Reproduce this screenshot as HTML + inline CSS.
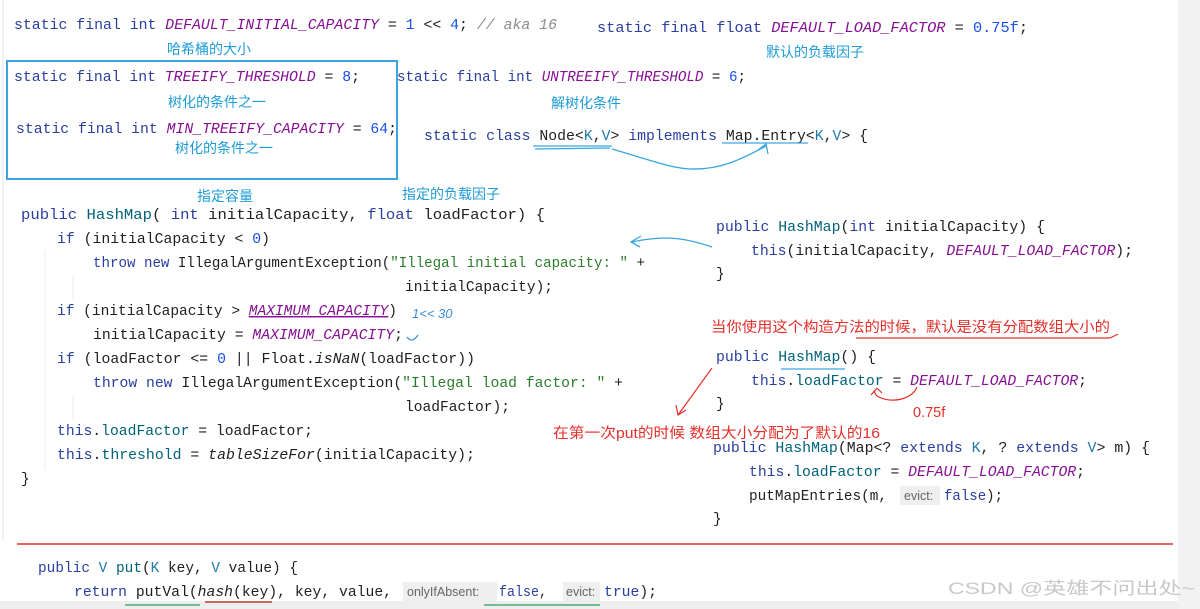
<!DOCTYPE html>
<html><head><meta charset="utf-8"><style>
html,body{margin:0;padding:0;background:#fff;width:1200px;height:609px;overflow:hidden}
svg{display:block}
.c{font-family:"Liberation Mono",monospace;font-size:14.5px;fill:#1f1f1f}
.k{fill:#2a3f9e}.p{fill:#871094;font-style:italic}.n{fill:#1750eb}.s{fill:#2c7d2c}.g{fill:#8c8c8c;font-style:italic}.m{fill:#00627a}.t{fill:#1f7ba8}
.a{font-family:"Liberation Sans","Noto Sans CJK SC",sans-serif;font-size:14px;fill:#1e9bd7}
.r{font-family:"Liberation Sans","Noto Sans CJK SC",sans-serif;font-size:14.5px;fill:#e3302a}
.h{font-family:"Liberation Sans",sans-serif;font-size:12.5px;fill:#666}
</style></head><body>
<svg width="1200" height="609" xmlns="http://www.w3.org/2000/svg">
<rect x="1178" y="0" width="22" height="609" fill="#f2f2f2"/>
<rect x="0" y="601" width="1178" height="8" fill="#eeeeee"/>
<line x1="3" y1="0" x2="3" y2="540" stroke="#e6e6e6"/>

<text class="c" x="14" y="29" textLength="543" lengthAdjust="spacingAndGlyphs"><tspan class="k">static final int </tspan><tspan class="p">DEFAULT_INITIAL_CAPACITY</tspan> = <tspan class="n">1</tspan> &lt;&lt; <tspan class="n">4</tspan>; <tspan class="g">// aka 16</tspan></text>
<text class="c" x="597" y="32" textLength="431" lengthAdjust="spacingAndGlyphs"><tspan class="k">static final float </tspan><tspan class="p">DEFAULT_LOAD_FACTOR</tspan> = <tspan class="n">0.75f</tspan>;</text>
<text class="a" x="167" y="54">哈希桶的大小</text>
<text class="a" x="766" y="57">默认的负载因子</text>

<rect x="7" y="61" width="390" height="118" fill="none" stroke="#3aa6dd" stroke-width="2"/>
<text class="c" x="14" y="81" textLength="346" lengthAdjust="spacingAndGlyphs"><tspan class="k">static final int </tspan><tspan class="p">TREEIFY_THRESHOLD</tspan> = <tspan class="n">8</tspan>;</text>
<text class="c" x="397" y="81" textLength="349" lengthAdjust="spacingAndGlyphs"><tspan class="k">static final int </tspan><tspan class="p">UNTREEIFY_THRESHOLD</tspan> = <tspan class="n">6</tspan>;</text>
<text class="a" x="168" y="107">树化的条件之一</text>
<text class="a" x="551" y="108">解树化条件</text>
<text class="c" x="16" y="133" textLength="381" lengthAdjust="spacingAndGlyphs"><tspan class="k">static final int </tspan><tspan class="p">MIN_TREEIFY_CAPACITY</tspan> = <tspan class="n">64</tspan>;</text>
<text class="a" x="175" y="153">树化的条件之一</text>
<text class="c" x="424" y="140" textLength="444" lengthAdjust="spacingAndGlyphs"><tspan class="k">static class </tspan>Node&lt;<tspan class="t">K</tspan>,<tspan class="t">V</tspan>&gt; <tspan class="k">implements </tspan>Map.Entry&lt;<tspan class="t">K</tspan>,<tspan class="t">V</tspan>&gt; {</text>
<path d="M533 146 L612 146 M535 149 L610 148 M612 149 C650 160 670 168 690 169 C720 170 740 160 766 146 M722 143 L808 143 M758 150 L766 144 L768 154" fill="none" stroke="#3aa6dd" stroke-width="1.3"/>

<text class="a" x="197" y="201">指定容量</text>
<text class="a" x="402" y="199">指定的负载因子</text>

<text class="c" x="21" y="219" textLength="524" lengthAdjust="spacingAndGlyphs"><tspan class="k">public </tspan><tspan class="m">HashMap</tspan>( <tspan class="k">int </tspan>initialCapacity, <tspan class="k">float </tspan>loadFactor) {</text>
<text class="c" x="57" y="243" textLength="213" lengthAdjust="spacingAndGlyphs"><tspan class="k">if </tspan>(initialCapacity &lt; <tspan class="n">0</tspan>)</text>
<text class="c" x="93" y="267" textLength="552" lengthAdjust="spacingAndGlyphs"><tspan class="k">throw new </tspan>IllegalArgumentException(<tspan class="s">"Illegal initial capacity: "</tspan> +</text>
<text class="c" x="405" y="291" textLength="148" lengthAdjust="spacingAndGlyphs">initialCapacity);</text>
<text class="c" x="57" y="315" textLength="340" lengthAdjust="spacingAndGlyphs"><tspan class="k">if </tspan>(initialCapacity &gt; <tspan class="p" text-decoration="underline">MAXIMUM_CAPACITY</tspan>)</text>
<text x="412" y="318" style="font-family:'Liberation Sans',sans-serif;font-size:13px;fill:#3a8fe0;font-style:italic">1&lt;&lt; 30</text>
<text class="c" x="93" y="339" textLength="310" lengthAdjust="spacingAndGlyphs">initialCapacity = <tspan class="p">MAXIMUM_CAPACITY</tspan>;</text>
<path d="M407 337 Q412 344 418 335" fill="none" stroke="#3a8fe0" stroke-width="1.2"/>
<text class="c" x="57" y="363" textLength="418" lengthAdjust="spacingAndGlyphs"><tspan class="k">if </tspan>(loadFactor &lt;= <tspan class="n">0</tspan> || Float.<tspan style="font-style:italic">isNaN</tspan>(loadFactor))</text>
<text class="c" x="93" y="387" textLength="530" lengthAdjust="spacingAndGlyphs"><tspan class="k">throw new </tspan>IllegalArgumentException(<tspan class="s">"Illegal load factor: "</tspan> +</text>
<text class="c" x="405" y="411" textLength="105" lengthAdjust="spacingAndGlyphs">loadFactor);</text>
<text class="c" x="57" y="435" textLength="256" lengthAdjust="spacingAndGlyphs"><tspan class="k">this</tspan>.<tspan class="m">loadFactor</tspan> = loadFactor;</text>
<text class="c" x="57" y="459" textLength="418" lengthAdjust="spacingAndGlyphs"><tspan class="k">this</tspan>.<tspan class="m">threshold</tspan> = <tspan style="font-style:italic">tableSizeFor</tspan>(initialCapacity);</text>
<text class="c" x="21" y="483">}</text>
<line x1="45" y1="250" x2="45" y2="470" stroke="#eee"/>
<line x1="73" y1="275" x2="73" y2="300" stroke="#eee"/>
<line x1="73" y1="395" x2="73" y2="420" stroke="#eee"/>

<text class="c" x="716" y="231" textLength="329" lengthAdjust="spacingAndGlyphs"><tspan class="k">public </tspan><tspan class="m">HashMap</tspan>(<tspan class="k">int </tspan>initialCapacity) {</text>
<text class="c" x="751" y="255" textLength="382" lengthAdjust="spacingAndGlyphs"><tspan class="k">this</tspan>(initialCapacity, <tspan class="p">DEFAULT_LOAD_FACTOR</tspan>);</text>
<text class="c" x="716" y="278">}</text>
<path d="M712 247 C680 236 660 236 632 242 M641 236 L631 242 L640 247" fill="none" stroke="#3aa6dd" stroke-width="1.3"/>

<text class="r" x="711" y="332" textLength="399" lengthAdjust="spacingAndGlyphs">当你使用这个构造方法的时候，默认是没有分配数组大小的</text>
<path d="M856 338 L1110 338 L1118 334" fill="none" stroke="#e3302a" stroke-width="1.2"/>
<text class="c" x="716" y="361" textLength="160" lengthAdjust="spacingAndGlyphs"><tspan class="k">public </tspan><tspan class="m">HashMap</tspan>() {</text>
<line x1="781" y1="369" x2="845" y2="369" stroke="#3aa6dd" stroke-width="1.3"/>
<text class="c" x="751" y="385" textLength="336" lengthAdjust="spacingAndGlyphs"><tspan class="k">this</tspan>.<tspan class="m">loadFactor</tspan> = <tspan class="p">DEFAULT_LOAD_FACTOR</tspan>;</text>
<text class="c" x="716" y="408">}</text>
<path d="M917 387 C912 400 890 404 877 396 C873 392 875 390 877 388 M877 388 L871 395 M877 388 L882 393" fill="none" stroke="#e3302a" stroke-width="1.2"/>
<path d="M712 368 L678 415 M676 405 L678 415 L686 410" fill="none" stroke="#e3302a" stroke-width="1.2"/>
<text class="r" x="913" y="417">0.75f</text>
<text class="r" x="553" y="438" textLength="327" lengthAdjust="spacingAndGlyphs">在第一次put的时候 数组大小分配为了默认的16</text>

<text class="c" x="713" y="452" textLength="437" lengthAdjust="spacingAndGlyphs"><tspan class="k">public </tspan><tspan class="m">HashMap</tspan>(Map&lt;? <tspan class="k">extends </tspan><tspan class="t">K</tspan>, ? <tspan class="k">extends </tspan><tspan class="t">V</tspan>&gt; m) {</text>
<text class="c" x="749" y="476" textLength="336" lengthAdjust="spacingAndGlyphs"><tspan class="k">this</tspan>.<tspan class="m">loadFactor</tspan> = <tspan class="p">DEFAULT_LOAD_FACTOR</tspan>;</text>
<text class="c" x="749" y="500" textLength="138" lengthAdjust="spacingAndGlyphs">putMapEntries(m,</text>
<rect x="900" y="486" width="40" height="19" fill="#efefef"/>
<text class="h" x="904" y="500">evict:</text>
<text class="c" x="944" y="500" textLength="59" lengthAdjust="spacingAndGlyphs"><tspan class="k">false</tspan>);</text>
<text class="c" x="713" y="523">}</text>

<line x1="17" y1="544" x2="1173" y2="544" stroke="#e3302a" stroke-width="1.5"/>

<text class="c" x="38" y="572" textLength="260" lengthAdjust="spacingAndGlyphs"><tspan class="k">public </tspan><tspan class="t">V</tspan> <tspan class="m">put</tspan>(<tspan class="t">K</tspan> key, <tspan class="t">V</tspan> value) {</text>
<text class="c" x="74" y="596" textLength="318" lengthAdjust="spacingAndGlyphs"><tspan class="k">return </tspan>putVal(<tspan style="font-style:italic">hash</tspan>(key), key, value,</text>
<line x1="205" y1="602" x2="272" y2="602" stroke="#c0392b" stroke-width="1.5"/>
<rect x="403" y="582" width="94" height="19" fill="#efefef"/>
<text class="h" x="407" y="596">onlyIfAbsent:</text>
<text class="c" x="499" y="596" textLength="48" lengthAdjust="spacingAndGlyphs"><tspan class="k">false</tspan>,</text>
<rect x="563" y="582" width="37" height="19" fill="#efefef"/>
<text class="h" x="566" y="596">evict:</text>
<text class="c" x="604" y="596" textLength="53" lengthAdjust="spacingAndGlyphs"><tspan class="k">true</tspan>);</text>
<line x1="484" y1="605" x2="600" y2="605" stroke="#2c9d5c" stroke-width="1.3"/>
<line x1="125" y1="605" x2="200" y2="605" stroke="#2c9d5c" stroke-width="1.3"/>

<text x="948" y="594" style="font-family:'Liberation Sans','Noto Sans CJK SC',sans-serif;font-size:17px;fill:#c8c8c8" textLength="247" lengthAdjust="spacingAndGlyphs">CSDN @英雄不问出处~</text>
</svg>
</body></html>
